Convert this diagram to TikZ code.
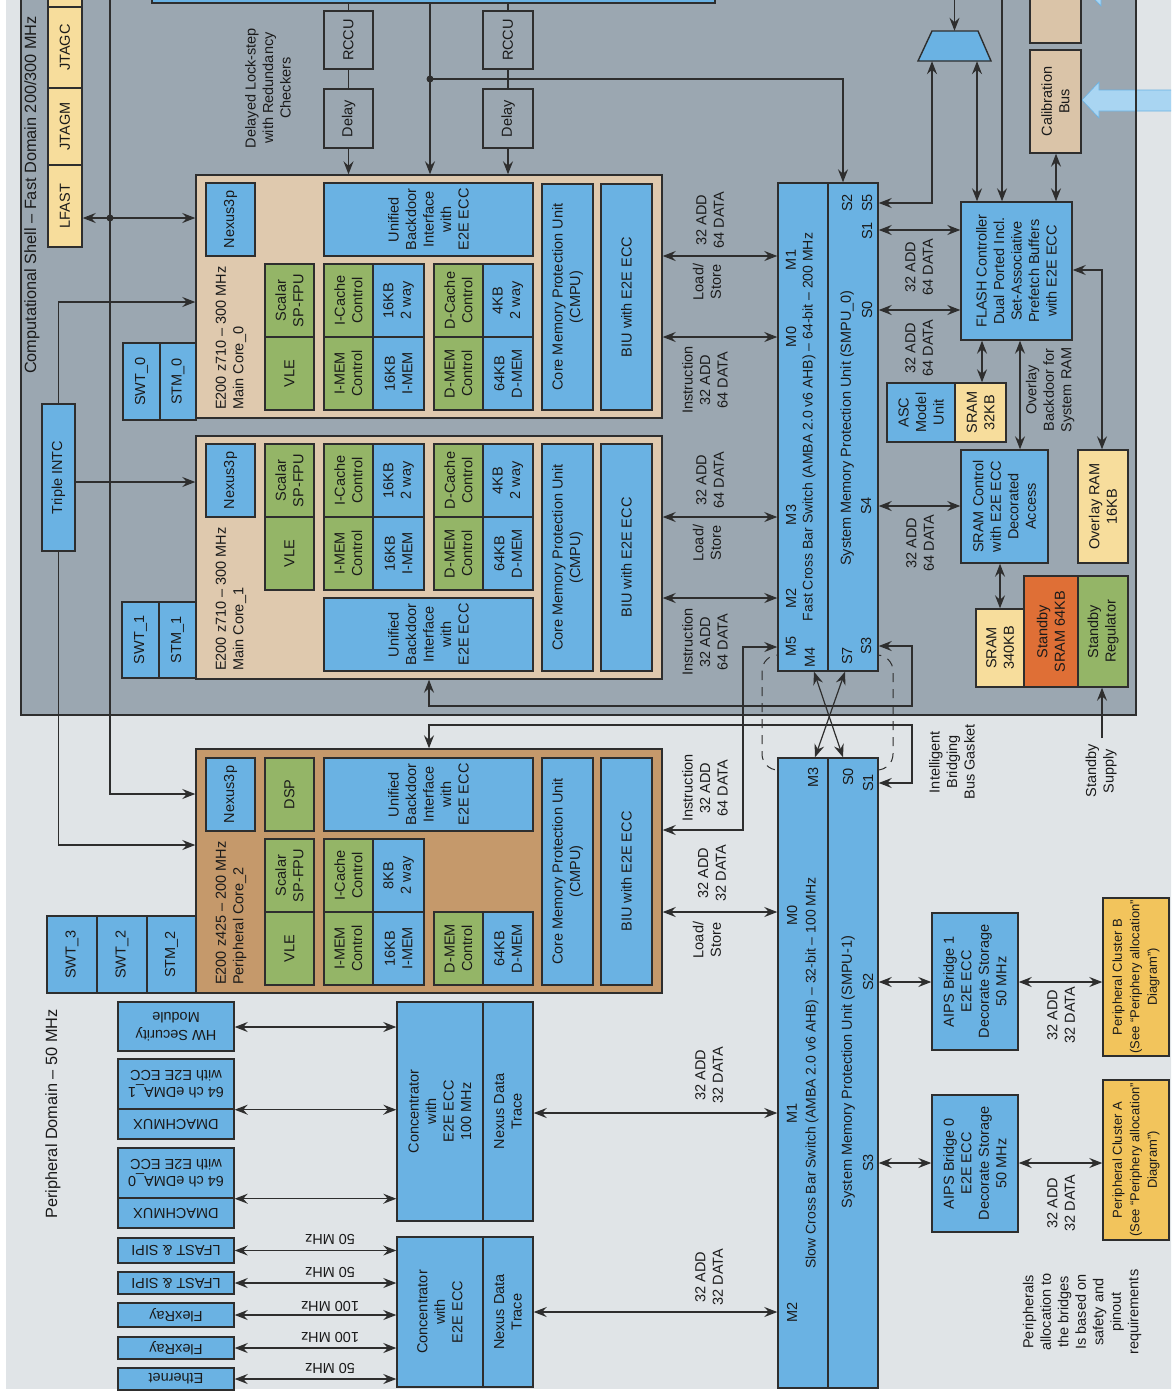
\documentclass[tikz,border=0pt]{standalone}
\usepackage{fontspec}
\setmainfont{Liberation Sans}
\usetikzlibrary{arrows.meta,fit}
\definecolor{bgc}{HTML}{E0E4E7}
\definecolor{shellc}{HTML}{9BA7B1}
\definecolor{cblue}{HTML}{6AB2E3}
\definecolor{cgreen}{HTML}{94B567}
\definecolor{ctan}{HTML}{DFC9AE}
\definecolor{cbrown}{HTML}{C5996B}
\definecolor{cyel}{HTML}{F7DD9C}
\definecolor{corange}{HTML}{F2C45C}
\definecolor{cred}{HTML}{DF6F36}
\definecolor{ccal}{HTML}{DAC4A8}
\definecolor{cfat}{HTML}{A9D5F2}
\definecolor{lnc}{HTML}{2E2E2E}
\definecolor{txtc}{HTML}{1A1A1A}
\newcommand\fs{\fontsize{14.5}{17.5}\selectfont}
\newcommand\fss{\fontsize{13}{17.5}\selectfont}
\newcommand\fsl{\fontsize{16.3}{19}\selectfont}
\newcommand\mybox[8][txt]{\node[#3,fit={(#4,#5) (#6,#7)}] (#2) {};\node[#1] (#2t) at (#2.center) {#8};}
\begin{document}
\begin{tikzpicture}[x=1pt,y=-1pt,
 bb/.style={draw=lnc, line width=1.4pt, inner sep=0pt},
 boxb/.style={bb, fill=cblue},
 boxg/.style={bb, fill=cgreen},
 boxy/.style={bb, fill=cyel},
 boxt/.style={bb, fill=ctan},
 boxc/.style={bb, fill=cbrown},
 boxo/.style={bb, fill=corange},
 boxr/.style={bb, fill=cred},
 boxcal/.style={bb, fill=ccal},
 boxs/.style={bb, fill=shellc},
 txt/.style={rotate=90, align=center, font=\fs, inner sep=0pt, text=txtc},
 txtf/.style={rotate=180, align=center, font=\fs, inner sep=0pt, text=txtc},
 lbl/.style={rotate=90, align=center, font=\fs, inner sep=0pt, text=txtc},
 lblf/.style={rotate=180, align=center, font=\fs, inner sep=0pt, text=txtc},
 stl/.tip={Stealth[length=13pt,width=10pt,inset=4.5pt]},
 con/.style={draw=lnc, line width=1.2pt},
 arr/.style={con, -stl},
 darr/.style={con, stl-stl},
 fat/.style={fill=cfat, draw=cblue, line width=0.6pt}
]
\useasboundingbox (0,0) rectangle (1171,1392);
\clip (0,0) rectangle (1171,1392);
\fill[white] (0,0) rectangle (1171,1392);
\fill[bgc] (6,-5) rectangle (1176,1389);
\node[fit={(21,-10) (1136,715)}, inner sep=0pt, fill=shellc] (shell) {};
% fat arrows
\fill[fat] (1082,100) -- (1099,82) -- (1099,90) -- (1180,90) -- (1180,111) -- (1099,111) -- (1099,118) -- cycle;
\fill[fat] (1084,-12) -- (1101,-30) -- (1101,-22) -- (1180,-22) -- (1180,-1) -- (1101,-1) -- (1101,6) -- cycle;
\draw[draw=lnc, line width=2pt] (shell.north west) rectangle (shell.south east);
% gasket
\draw[con, line width=1pt, dash pattern=on 9pt off 7pt, rounded corners=16pt] (762,655) rectangle (893,770);
% top partial boxes
\mybox{topb}{boxb}{152}{-10}{715}{3}{}
\mybox{topy}{boxy}{48}{-10}{82}{7}{}
\mybox{topc}{boxcal}{1030}{-10}{1081}{43}{}
% jtag
\mybox{jtagc}{boxy}{48}{7}{82}{88}{JTAGC}
\mybox{jtagm}{boxy}{48}{88}{82}{165}{JTAGM}
\mybox{lfast}{boxy}{48}{165}{82}{247}{LFAST}
\mybox{intc}{boxb}{42}{404}{75}{551}{Triple INTC}
% rccu / delay
\mybox{rccua}{boxs}{324}{11}{373}{69}{RCCU}
\mybox{delaya}{boxs}{324}{89}{373}{148}{Delay}
\mybox{rccub}{boxs}{483}{11}{533}{69}{RCCU}
\mybox{delayb}{boxs}{483}{89}{533}{148}{Delay}
% core 0
\mybox{core0}{boxt}{196}{175}{662}{418}{}
\mybox{cznex}{boxb}{206}{183}{255}{256}{Nexus3p}
\mybox{czfpu}{boxg}{265}{264}{314}{337}{Scalar\\SP-FPU}
\mybox{czvle}{boxg}{265}{337}{314}{410}{VLE}
\mybox{czic}{boxg}{324}{264}{373}{337}{I-Cache\\Control}
\mybox{czim}{boxg}{324}{337}{373}{410}{I-MEM\\Control}
\mybox{czicm}{boxb}{373}{264}{424}{337}{16KB\\2 way}
\mybox{czimm}{boxb}{373}{337}{424}{410}{16KB\\I-MEM}
\mybox{czdc}{boxg}{434}{264}{483}{337}{D-Cache\\Control}
\mybox{czdm}{boxg}{434}{337}{483}{410}{D-MEM\\Control}
\mybox{czdcm}{boxb}{483}{264}{533}{337}{4KB\\2 way}
\mybox{czdmm}{boxb}{483}{337}{533}{410}{64KB\\D-MEM}
\mybox{czub}{boxb}{324}{183}{533}{256}{Unified\\Backdoor\\Interface\\with\\E2E ECC}
\mybox{czcmpu}{boxb}{542}{184}{593}{410}{Core Memory Protection Unit\\(CMPU)}
\mybox{czbiu}{boxb}{601}{184}{652}{410}{BIU with E2E ECC}
\node[lbl, anchor=west, align=left] (czlab) at (231,410) {E200 z710 – 300 MHz\\Main Core\_0};
\mybox{swtz}{boxb}{123}{343}{160}{420}{SWT\_0}
\mybox{stmz}{boxb}{160}{343}{196}{420}{STM\_0}
% core 1
\mybox{core1}{boxt}{196}{436}{662}{679}{}
\mybox{conex}{boxb}{206}{444}{255}{517}{Nexus3p}
\mybox{cofpu}{boxg}{265}{444}{314}{517}{Scalar\\SP-FPU}
\mybox{covle}{boxg}{265}{517}{314}{590}{VLE}
\mybox{coic}{boxg}{324}{444}{373}{517}{I-Cache\\Control}
\mybox{coim}{boxg}{324}{517}{373}{590}{I-MEM\\Control}
\mybox{coicm}{boxb}{373}{444}{424}{517}{16KB\\2 way}
\mybox{coimm}{boxb}{373}{517}{424}{590}{16KB\\I-MEM}
\mybox{codc}{boxg}{434}{444}{483}{517}{D-Cache\\Control}
\mybox{codm}{boxg}{434}{517}{483}{590}{D-MEM\\Control}
\mybox{codcm}{boxb}{483}{444}{533}{517}{4KB\\2 way}
\mybox{codmm}{boxb}{483}{517}{533}{590}{64KB\\D-MEM}
\mybox{coub}{boxb}{324}{598}{533}{671}{Unified\\Backdoor\\Interface\\with\\E2E ECC}
\mybox{cocmpu}{boxb}{542}{444}{593}{671}{Core Memory Protection Unit\\(CMPU)}
\mybox{cobiu}{boxb}{601}{444}{652}{671}{BIU with E2E ECC}
\node[lbl, anchor=west, align=left] (colab) at (231,671) {E200 z710 – 300 MHz\\Main Core\_1};
\mybox{swto}{boxb}{122}{602}{159}{678}{SWT\_1}
\mybox{stmo}{boxb}{159}{602}{196}{678}{STM\_1}
% core 2
\mybox{core2}{boxc}{196}{749}{662}{993}{}
\mybox{ctnex}{boxb}{206}{758}{255}{831}{Nexus3p}
\mybox{ctdsp}{boxg}{265}{758}{314}{831}{DSP}
\mybox{ctfpu}{boxg}{265}{839}{314}{912}{Scalar\\SP-FPU}
\mybox{ctvle}{boxg}{265}{912}{314}{985}{VLE}
\mybox{ctub}{boxb}{324}{758}{533}{831}{Unified\\Backdoor\\Interface\\with\\E2E ECC}
\mybox{ctic}{boxg}{324}{839}{373}{912}{I-Cache\\Control}
\mybox{ctim}{boxg}{324}{912}{373}{985}{I-MEM\\Control}
\mybox{cticm}{boxb}{373}{839}{424}{912}{8KB\\2 way}
\mybox{ctimm}{boxb}{373}{912}{424}{985}{16KB\\I-MEM}
\mybox{ctdm}{boxg}{434}{912}{483}{985}{D-MEM\\Control}
\mybox{ctdmm}{boxb}{483}{912}{533}{985}{64KB\\D-MEM}
\mybox{ctcmpu}{boxb}{542}{758}{593}{985}{Core Memory Protection Unit\\(CMPU)}
\mybox{ctbiu}{boxb}{601}{758}{652}{985}{BIU with E2E ECC}
\node[lbl, anchor=west, align=left] (ctlab) at (231,985) {E200 z425 – 200 MHz\\Peripheral Core\_2};
\mybox{swtc}{boxb}{47}{916}{97}{993}{SWT\_3}
\mybox{swtb}{boxb}{97}{916}{147}{993}{SWT\_2}
\mybox{stmt}{boxb}{147}{916}{196}{993}{STM\_2}
% fast crossbar
\mybox{fxbl}{boxb}{778}{183}{828}{671}{}
\mybox{fsmr}{boxb}{828}{183}{878}{671}{}
\node[lbl, font=\fontsize{14}{17}\selectfont] (fxbtitle) at (809,427) {Fast Cross Bar Switch (AMBA 2.0 v6 AHB) – 64-bit – 200 MHz};
\node[lbl] (fsmtitle) at (847,428) {System Memory Protection Unit (SMPU\_0)};
\node[lbl] (pfm1) at (791,260) {M1};
\node[lbl] (pfm0) at (791,337) {M0};
\node[lbl] (pfm3) at (791,515) {M3};
\node[lbl] (pfm2) at (791,598) {M2};
\node[lbl] (pfm5) at (791,646) {M5};
\node[lbl] (pfm4) at (810,657) {M4};
\node[lbl] (pfs2) at (847,203) {S2};
\node[lbl] (pfs5) at (867,203) {S5};
\node[lbl] (pfs1) at (867,231) {S1};
\node[lbl] (pfs0) at (867,310) {S0};
\node[lbl] (pfs4) at (866,506) {S4};
\node[lbl] (pfs3) at (866,646) {S3};
\node[lbl] (pfs7) at (847,656) {S7};
% mux, flash etc
\node[fit={(918,31) (991,61)}, inner sep=0pt] (mux) {};
\filldraw[bb, fill=cblue] (932,31) -- (978,31) -- (991,61) -- (918,61) -- cycle;
\mybox{flash}{boxb}{961}{202}{1072}{340}{FLASH Controller\\Dual Ported Incl.\\Set-Associative\\Prefetch Buffers\\with E2E ECC}
\mybox{cal}{boxcal}{1030}{50}{1081}{153}{Calibration\\Bus}
\mybox{asc}{boxb}{887}{383}{955}{442}{ASC\\Model\\Unit}
\mybox{sram32}{boxy}{955}{383}{1006}{442}{SRAM\\32KB}
\mybox{sramctl}{boxb}{961}{450}{1048}{563}{SRAM Control\\with E2E ECC\\Decorated\\Access}
\mybox{ovl}{boxy}{1078}{450}{1128}{563}{Overlay RAM\\16KB}
\mybox{sram340}{boxy}{976}{609}{1024}{687}{SRAM\\340KB}
\mybox{stbysram}{boxr}{1024}{576}{1078}{687}{Standby\\SRAM 64KB}
\mybox{stbyreg}{boxg}{1078}{576}{1128}{687}{Standby\\Regulator}
% slow crossbar
\mybox{sxbl}{boxb}{778}{758}{828}{1388}{}
\mybox{sxbr}{boxb}{828}{758}{878}{1388}{}
\node[lbl, font=\fontsize{14}{17}\selectfont] (sxbtitle) at (812,1073) {Slow Cross Bar Switch (AMBA 2.0 v6 AHB) – 32-bit – 100 MHz};
\node[lbl] (ssmtitle) at (848,1072) {System Memory Protection Unit (SMPU-1)};
\node[lbl] (psm3) at (813,777) {M3};
\node[lbl] (psm0) at (792,915) {M0};
\node[lbl] (psm1) at (792,1113) {M1};
\node[lbl] (psm2) at (792,1312) {M2};
\node[lbl] (pss0) at (848,777) {S0};
\node[lbl] (pss1) at (868,783) {S1};
\node[lbl] (pss2) at (868,982) {S2};
\node[lbl] (pss3) at (868,1163) {S3};
% bridges and clusters
\mybox{aipsb}{boxb}{932}{913}{1018}{1050}{AIPS Bridge 1\\E2E ECC\\Decorate Storage\\50 MHz}
\mybox{aipsa}{boxb}{932}{1095}{1018}{1232}{AIPS Bridge 0\\E2E ECC\\Decorate Storage\\50 MHz}
\mybox[txt, font=\fss]{clb}{boxo}{1103}{898}{1169}{1056}{Peripheral Cluster B\\(See “Periphery allocation”\\Diagram”)}
\mybox[txt, font=\fss]{cla}{boxo}{1103}{1080}{1169}{1240}{Peripheral Cluster A\\(See “Periphery allocation”\\Diagram”)}
% concentrators
\mybox{concal}{boxb}{397}{1002}{483}{1221}{Concentrator\\with\\E2E ECC\\100 MHz}
\mybox{concar}{boxb}{483}{1002}{533}{1221}{Nexus Data\\Trace}
\mybox{concbl}{boxb}{397}{1237}{483}{1387}{Concentrator\\with\\E2E ECC}
\mybox{concbr}{boxb}{483}{1237}{533}{1387}{Nexus Data\\Trace}
% peripherals
\mybox[txtf]{hsm}{boxb}{118}{1002}{234}{1051}{HW Security\\Module}
\mybox[txtf]{edmab}{boxb}{118}{1059}{234}{1109}{64 ch eDMA\_1\\with E2E ECC}
\mybox[txtf]{dmuxb}{boxb}{118}{1109}{234}{1139}{DMACHMUX}
\mybox[txtf]{edmaa}{boxb}{118}{1148}{234}{1198}{64 ch eDMA\_0\\with E2E ECC}
\mybox[txtf]{dmuxa}{boxb}{118}{1198}{234}{1228}{DMACHMUX}
\mybox[txtf]{lfa}{boxb}{118}{1238}{234}{1263}{LFAST \& SIPI}
\mybox[txtf]{lfb}{boxb}{118}{1272}{234}{1294}{LFAST \& SIPI}
\mybox[txtf]{fra}{boxb}{118}{1303}{234}{1327}{FlexRay}
\mybox[txtf]{frb}{boxb}{118}{1337}{234}{1359}{FlexRay}
\mybox[txtf]{eth}{boxb}{118}{1368}{234}{1390}{Ethernet}
% ---------------- connectors
\coordinate (ta) at (110,-5);
\coordinate (dota) at (110,218);
\draw[arr] (ta) |- (core2.west |- 0,794);
\fill[lnc] (dota) circle[radius=3.5pt];
\draw[arr] (dota) -- (lfast.east |- dota);
\draw[arr] (dota) -- (core0.west |- dota);
\draw[arr] (intc.north) |- (core0.west |- 0,302);
\draw[arr] (intc.east |- 0,482) -- (core1.west |- 0,482);
\draw[arr] (intc.south) |- (core2.west |- 0,845);
\draw[con] (topb.south -| rccua.north) -- (rccua.north);
\draw[con] (rccua) -- (delaya);
\draw[arr] (delaya) -- (core0.north -| delaya.south);
\draw[con] (topb.south -| rccub.north) -- (rccub.north);
\draw[con] (rccub) -- (delayb);
\draw[arr] (delayb) -- (core0.north -| delayb.south);
\coordinate (dotb) at (430,79);
\draw[arr] (topb.south -| dotb) -- (core0.north -| dotb);
\fill[lnc] (dotb) circle[radius=3.5pt];
\draw[arr] (dotb) -| (fsmr.north -| 843,0);
\draw[darr] (core0.east |- 0,256) -- (fxbl.west |- 0,256);
\draw[darr] (core0.east |- 0,337) -- (fxbl.west |- 0,337);
\draw[darr] (core1.east |- 0,517) -- (fxbl.west |- 0,517);
\draw[darr] (core1.east |- 0,598) -- (fxbl.west |- 0,598);
\draw[darr] (core2.east |- 0,830) -- (743,830) -- (743,647) -- (fxbl.west |- 0,647);
\draw[darr] (core2.east |- 0,912) -- (sxbl.west |- 0,912);
\draw[darr] (core1.south -| 429,0) -- (429,706) -- (912,706) -- (912,646) -- (fsmr.east |- 0,646);
\draw[darr] (core2.north -| 429,0) -- (429,725) -- (912,725) -- (912,783) -- (sxbr.east |- 0,783);
\draw[darr] (fsmr.east |- 0,230) -- (flash.west |- 0,230);
\draw[darr] (fsmr.east |- 0,310) -- (flash.west |- 0,310);
\draw[darr] (fsmr.east |- 0,203) -- (932,203) -- (mux.south -| 932,0);
\coordinate (tm) at (954.5,-5);
\draw[arr] (tm) -- (mux.north);
\draw[darr] (mux.south -| 977,0) -- (flash.north -| 977,0);
\coordinate (tf) at (1002,-5);
\draw[arr] (tf) -- (flash.north -| tf);
\draw[darr] (cal.south -| 1056,0) -- (flash.north -| 1056,0);
\draw[darr] (flash.east |- 0,270) -- (1102,270) -- (ovl.north -| 1102,0);
\draw[darr] (flash.south -| 982,0) -- (sram32.north -| 982,0);
\draw[darr] (flash.south -| 1020,0) -- (sramctl.north -| 1020,0);
\draw[darr] (fsmr.east |- 0,506) -- (sramctl.west |- 0,506);
\draw[darr] (sramctl.south -| 1000,0) -- (sram340.north -| 1000,0);
\coordinate (ss) at (1102,738);
\draw[arr] (ss) -- (stbyreg.south -| ss);
\draw[darr] (fxbl.south -| 814,0) -- (sxbr.north -| 843,0);
\draw[darr] (fsmr.south -| 845,0) -- (sxbl.north -| 815,0);
\draw[darr] (sxbr.east |- 0,982) -- (aipsb.west |- 0,982);
\draw[darr] (aipsb.east |- 0,982) -- (clb.west |- 0,982);
\draw[darr] (sxbr.east |- 0,1163) -- (aipsa.west |- 0,1163);
\draw[darr] (aipsa.east |- 0,1163) -- (cla.west |- 0,1163);
\draw[darr] (concar.east |- 0,1113) -- (sxbl.west |- 0,1113);
\draw[darr] (concbr.east |- 0,1312) -- (sxbl.west |- 0,1312);
\draw[darr] (hsm.east |- 0,1027) -- (concal.west |- 0,1027);
\draw[darr] (edmab.south east) -- (concal.west |- edmab.south east);
\draw[darr] (edmaa.south east) -- (concal.west |- edmaa.south east);
\draw[darr] (lfa) -- (concbl.west |- lfa);
\draw[darr] (lfb) -- (concbl.west |- lfb);
\draw[darr] (fra) -- (concbl.west |- fra);
\draw[darr] (frb) -- (concbl.west |- frb);
\draw[darr] (eth) -- (concbl.west |- eth);
% ---------------- labels
\node[lbl, font=\fsl] (shellt) at (32,195) {Computational Shell – Fast Domain 200/300 MHz};
\node[lbl, font=\fsl] (pdt) at (53,1114) {Peripheral Domain – 50 MHz};
\node[lbl] (dls) at (268,88) {Delayed Lock-step\\with Redundancy\\Checkers};
\node[lbl] (la) at (710,220) {32 ADD\\64 DATA};
\node[lbl] (lb) at (707,282) {Load/\\Store};
\node[lbl] (lc) at (705,380) {Instruction\\32 ADD\\64 DATA};
\node[lbl] (ld) at (710,480) {32 ADD\\64 DATA};
\node[lbl] (le) at (707,543) {Load/\\Store};
\node[lbl] (lf) at (705,642) {Instruction\\32 ADD\\64 DATA};
\node[lbl] (lg) at (705,788) {Instruction\\32 ADD\\64 DATA};
\node[lbl] (lh) at (712,873) {32 ADD\\32 DATA};
\node[lbl] (li) at (707,940) {Load/\\Store};
\node[lbl] (lj) at (709,1075) {32 ADD\\32 DATA};
\node[lbl] (lk) at (709,1277) {32 ADD\\32 DATA};
\node[lbl] (ll) at (919,267) {32 ADD\\64 DATA};
\node[lbl] (lm) at (919,348) {32 ADD\\64 DATA};
\node[lbl] (ln) at (920,543) {32 ADD\\64 DATA};
\node[lbl] (lo) at (1050,390) {Overlay\\Backdoor for\\System RAM};
\node[lbl] (lp) at (1061,1015) {32 ADD\\32 DATA};
\node[lbl] (lq) at (1061,1203) {32 ADD\\32 DATA};
\node[lbl] (lr) at (1101,771) {Standby\\Supply};
\node[lbl] (ls) at (952,762) {Intelligent\\Bridging\\Bus Gasket};
\node[lbl] (lt) at (1082,1312) {Peripherals\\allocation to\\the bridges\\Is based on\\safety and\\pinout\\requirements};
\node[lblf] (fa) at (330,1239) {50 MHz};
\node[lblf] (fb) at (330,1272) {50 MHz};
\node[lblf] (fc) at (330,1306) {100 MHz};
\node[lblf] (fd) at (330,1337) {100 MHz};
\node[lblf] (fe) at (330,1368) {50 MHz};
\end{tikzpicture}
\end{document}
